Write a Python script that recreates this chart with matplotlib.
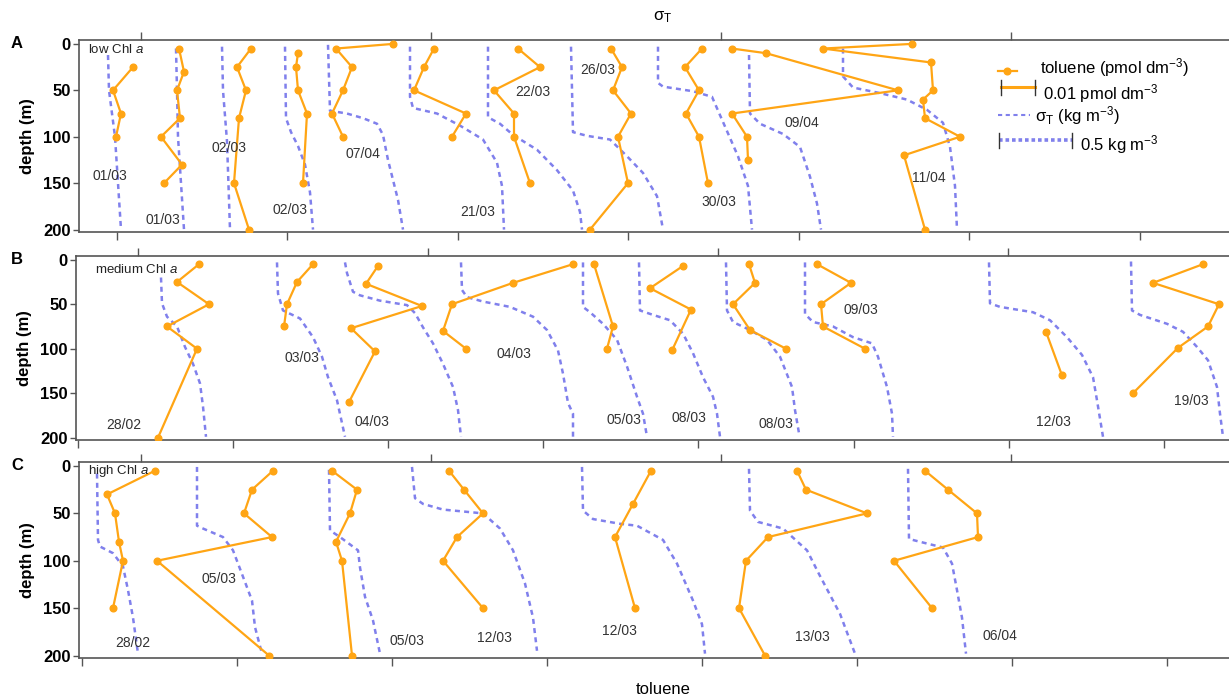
import numpy as np
import matplotlib.pyplot as plt

plt.rcParams['font.family'] = ['Liberation Sans', 'DejaVu Sans']
plt.rcParams['mathtext.fontset'] = 'custom'
plt.rcParams['mathtext.rm'] = 'Liberation Sans'
plt.rcParams['mathtext.it'] = 'Liberation Sans:italic'
plt.rcParams['mathtext.bf'] = 'Liberation Sans:bold'

# x values are offset profile positions in plot units
# (34 units = 0.01 pmol dm-3 toluene, 73 units = 0.5 kg m-3 sigma-T)
TOL_BAR = 34
SIG_BAR = 73

# ---- panel A: low Chl a ----
tol_depth_A = [[25, 50, 75, 100],
               [5, 30, 50, 80, 100, 130, 150],
               [5, 25, 50, 80, 150, 200],
               [10, 25, 50, 75, 150],
               [0, 5, 25, 50, 75, 100],
               [5, 25, 50, 75, 100],
               [5, 25, 50, 75, 100, 150],
               [5, 25, 50, 75, 100, 150, 200],
               [5, 25, 50, 75, 100, 150],
               [5, 10, 50, 75, 100, 125],
               [0, 5, 20, 50, 60, 80, 100, 120, 200]]
tol_A = [[54, 34, 42, 37],
         [100, 105, 98, 101, 82, 103, 85],
         [172, 158, 167, 160, 155, 170],
         [219, 217, 219, 228, 224],
         [314, 257, 273, 264, 253, 264],
         [355, 345, 335, 387, 373],
         [439, 461, 415, 435, 435, 451],
         [532, 543, 534, 552, 539, 549, 511],
         [623, 606, 620, 607, 620, 629],
         [653, 687, 819, 653, 668, 669],
         [833, 744, 852, 854, 844, 846, 881, 825, 846]]
sig_depth_A = [[12, 50, 75, 100, 150, 200],
               [5, 50, 100, 150, 200],
               [3, 50, 105, 200],
               [3, 80, 95, 110, 130, 160, 200],
               [1, 72, 75, 80, 86, 98, 125, 168, 200],
               [3, 57, 69, 75, 88, 103, 128, 153, 200],
               [3, 79, 86, 98, 114, 136, 158, 181, 200],
               [3, 95, 99, 103, 121, 139, 164, 200],
               [3, 42, 46, 51, 57, 89, 121, 153, 200],
               [12, 75, 86, 97, 111, 143, 172, 200],
               [5, 35, 47, 53, 60, 71, 85, 111, 153, 200]]
sig_A = [[29, 30, 33, 36, 39, 42],
         [97, 98, 99, 102, 105],
         [143, 144, 148, 151],
         [206, 207, 212, 219, 226, 231, 234],
         [249, 251, 268, 284, 298, 304, 309, 319, 324],
         [331, 331, 334, 358, 381, 404, 418, 423, 425],
         [409, 409, 421, 434, 458, 478, 494, 501, 503],
         [492, 494, 508, 531, 548, 564, 578, 584],
         [579, 579, 584, 614, 633, 646, 659, 669, 673],
         [670, 671, 681, 704, 721, 731, 738, 742],
         [764, 764, 774, 801, 828, 848, 864, 871, 876, 878]]
dates_A = ['01/03', '01/03', '02/03', '02/03', '07/04', '21/03',
           '22/03', '26/03', '30/03', '09/04', '11/04']
date_pos_A = [(31, 142), (84, 190), (150, 112), (211, 179), (284, 119), (399, 181),
              (454, 52), (519, 28), (640, 170), (723, 85), (850, 144)]

# ---- panel B: medium Chl a ----
tol_depth_B = [[5, 25, 50, 75, 100, 200],
               [5, 25, 50, 75],
               [7, 27, 52, 77, 103, 160],
               [5, 26, 50, 80, 100],
               [5, 75, 100],
               [7, 32, 56, 102],
               [5, 26, 50, 79, 100],
               [5, 26, 50, 75, 100],
               [81, 130],
               [5, 26, 50, 75, 99, 150]]
tol_B = [[120, 98, 130, 88, 118, 79],
         [234, 218, 208, 205],
         [299, 287, 343, 272, 296, 270],
         [494, 434, 373, 364, 387],
         [515, 534, 528],
         [604, 571, 612, 593],
         [670, 676, 654, 671, 707],
         [738, 772, 742, 744, 786],
         [967, 983],
         [1124, 1074, 1140, 1129, 1099, 1054]]
sig_depth_B = [[20, 49, 64, 75, 98, 117, 139, 165, 199],
               [3, 38, 57, 66, 87, 109, 132, 158, 199],
               [3, 15, 36, 40, 46, 51, 60, 76, 94, 117, 143, 169, 199],
               [3, 34, 42, 47, 53, 64, 79, 102, 128, 161, 173, 199],
               [3, 53, 59, 72, 90, 120, 154, 173, 199],
               [3, 57, 62, 68, 83, 105, 132, 154, 173, 199],
               [3, 57, 70, 79, 90, 109, 143, 169, 195],
               [3, 61, 70, 75, 87, 94, 109, 143, 173, 199],
               [3, 49, 53, 59, 68, 87, 107, 132, 158, 199],
               [2, 57, 62, 72, 81, 98, 113, 143, 173, 199]]
sig_B = [[82, 83, 88, 98, 106, 114, 121, 124, 127],
         [198, 199, 204, 221, 234, 243, 249, 258, 266],
         [266, 268, 274, 281, 301, 328, 336, 344, 354, 364, 374, 379, 382],
         [382, 383, 388, 404, 431, 454, 468, 479, 484, 489, 494, 494],
         [504, 504, 511, 524, 538, 548, 558, 564, 568],
         [560, 561, 574, 591, 604, 614, 624, 634, 638, 641],
         [647, 648, 654, 671, 688, 701, 713, 716, 720],
         [726, 726, 734, 754, 774, 793, 799, 808, 813, 814],
         [910, 911, 921, 954, 971, 988, 1003, 1014, 1018, 1024],
         [1052, 1053, 1061, 1088, 1104, 1118, 1129, 1138, 1141, 1144]]
dates_B = ['28/02', '03/03', '04/03', '04/03', '05/03',
           '08/03', '08/03', '09/03', '12/03', '19/03']
date_pos_B = [(45, 186), (223, 110), (293, 182), (435, 106), (545, 180),
              (610, 178), (697, 185), (782, 56), (974, 182), (1112, 159)]

# ---- panel C: high Chl a ----
tol_depth_C = [[5, 30, 50, 80, 100, 150],
               [5, 25, 50, 75, 100, 200],
               [5, 25, 50, 80, 100, 200],
               [5, 25, 50, 75, 100, 150],
               [5, 40, 75, 150],
               [5, 25, 50, 75, 100, 150, 200],
               [5, 25, 50, 75, 100, 150]]
tol_C = [[76, 28, 36, 40, 44, 34],
         [194, 173, 165, 193, 78, 190],
         [253, 278, 271, 257, 263, 273],
         [370, 385, 404, 378, 364, 404],
         [572, 554, 536, 556],
         [718, 727, 788, 689, 667, 660, 686],
         [846, 869, 898, 899, 815, 853]]
sig_depth_C = [[8, 78, 85, 92, 106, 131, 160, 198],
               [1, 63, 66, 75, 89, 128, 142, 170, 198],
               [4, 68, 75, 89, 107, 138, 163, 198],
               [1, 34, 40, 46, 50, 66, 89, 124, 160, 195],
               [1, 47, 56, 61, 63, 78, 103, 142, 167, 198],
               [3, 47, 59, 66, 89, 114, 156, 198],
               [3, 77, 80, 86, 103, 131, 160, 198]]
sig_C = [[18, 19, 21, 34, 44, 49, 54, 59],
         [118, 118, 124, 144, 154, 168, 173, 176, 183],
         [250, 251, 261, 279, 281, 286, 294, 301],
         [333, 336, 344, 364, 404, 421, 434, 446, 454, 458],
         [503, 504, 514, 541, 558, 584, 598, 614, 623, 626],
         [670, 671, 679, 704, 728, 740, 761, 776],
         [829, 830, 841, 864, 873, 878, 883, 887]]
dates_C = ['28/02', '05/03', '05/03', '12/03', '12/03', '13/03', '06/04']
date_pos_C = [(54, 187), (140, 119), (328, 185), (415, 181), (540, 174),
              (733, 180), (921, 179)]

TOL_COLOR = '#FFA514'
SIG_COLOR = '#8080EC'
SPINE = '#555555'
SIG_DASH = (2.0, 1.7)

W, H = 1229, 700
fig = plt.figure(figsize=(W / 100, H / 100), dpi=100)


def rect(left, top, right, bottom):
    return [left / W, 1 - bottom / H, (right - left) / W, (bottom - top) / H]


panels = [
    dict(rect=rect(79, 40, 1229, 232), x0=0, letter='A', ly=44,
         title='low Chl $a$', tpos=(9, 6),
         bot=37.5 + 170.5 * np.arange(7), top=61.7 + 290 * np.arange(4),
         tol_d=tol_depth_A, tol=tol_A, sig_d=sig_depth_A, sig=sig_A,
         dates=dates_A, dpos=date_pos_A),
    dict(rect=rect(76, 256, 1229, 440), x0=-3, letter='B', ly=259,
         title='medium Chl $a$', tpos=(16, 11),
         bot=-1 + 155.1 * np.arange(8), top=58.7 + 290 * np.arange(4),
         tol_d=tol_depth_B, tol=tol_B, sig_d=sig_depth_B, sig=sig_B,
         dates=dates_B, dpos=date_pos_B),
    dict(rect=rect(79, 462, 1229, 658), x0=0, letter='C', ly=466,
         title='high Chl $a$', tpos=(9, 5),
         bot=2.7 + 155 * np.arange(8), top=61.7 + 290 * np.arange(4),
         tol_d=tol_depth_C, tol=tol_C, sig_d=sig_depth_C, sig=sig_C,
         dates=dates_C, dpos=date_pos_C),
]

axes = []
for p in panels:
    ax = fig.add_axes(p['rect'])
    axes.append(ax)
    for d, x in zip(p['sig_d'], p['sig']):
        ax.plot(x, d, color=SIG_COLOR, lw=1.8, dashes=SIG_DASH, zorder=2)
    for d, x in zip(p['tol_d'], p['tol']):
        ax.plot(x, d, color=TOL_COLOR, lw=1.6, marker='o', ms=4.8, zorder=3)
    for lab, (x, d) in zip(p['dates'], p['dpos']):
        ax.text(x, d, lab, ha='center', va='center', fontsize=10, color='#333333')
    ax.text(p['tpos'][0], p['tpos'][1], p['title'], ha='left', va='center',
            fontsize=9.5, color='#222222')

    ax.set_xlim(p['x0'], 1150)
    ax.set_ylim(202.6, -4.2)
    ax.set_yticks([0, 50, 100, 150, 200], ['0', '50', '100', '150', '200'],
                  fontweight='bold', fontsize=12)
    ax.set_xticks(p['bot'], [])
    ax.tick_params(axis='y', length=4, width=1, color=SPINE, pad=2)
    ax.tick_params(axis='x', length=6, width=1, color=SPINE)
    ax.set_ylabel('depth (m)', fontsize=12, fontweight='bold', labelpad=6)

    sec = ax.secondary_xaxis('top')
    sec.set_xticks(p['top'], [])
    sec.tick_params(length=6, width=1, color=SPINE)
    sec.spines['top'].set_color(SPINE)
    sec.spines['top'].set_linewidth(1.2)
    ax.spines['top'].set_visible(False)
    ax.spines['right'].set_visible(False)
    for s in ['left', 'bottom']:
        ax.spines[s].set_color(SPINE)
        ax.spines[s].set_linewidth(1.2)

    fig.text(17 / W, 1 - p['ly'] / H, p['letter'], fontsize=12,
             fontweight='bold', ha='center', va='center')

# legend with scale bars, inside panel A
ax = axes[0]
tr = ax.get_xaxis_transform()
ax.plot([919, 938], [0.84, 0.84], color=TOL_COLOR, lw=1.6, transform=tr, clip_on=False)
ax.plot([928], [0.84], 'o', color=TOL_COLOR, ms=4.8, transform=tr, clip_on=False)
ax.text(961, 0.855, 'toluene (pmol dm$^{-3}$)', fontsize=12, va='center', transform=tr)

bx = 922
ax.plot([bx, bx + TOL_BAR], [0.754, 0.754], color=TOL_COLOR, lw=2.2, transform=tr)
for xx in (bx, bx + TOL_BAR):
    ax.plot([xx, xx], [0.715, 0.79], color='#333333', lw=1, transform=tr)
ax.text(964, 0.722, '0.01 pmol dm$^{-3}$', fontsize=12, va='center', transform=tr)

ax.plot([919, 951], [0.61, 0.61], color=SIG_COLOR, lw=1.5, dashes=SIG_DASH, transform=tr)
ax.text(956, 0.605, 'σ$_\\mathrm{T}$ (kg m$^{-3}$)', fontsize=12, va='center', transform=tr)

sx = 920
ax.plot([sx, sx + SIG_BAR], [0.479, 0.479], color=SIG_COLOR, lw=2.6,
        dashes=(1.0, 0.8), transform=tr)
for xx in (sx, sx + SIG_BAR):
    ax.plot([xx, xx], [0.44, 0.515], color='#333333', lw=1, transform=tr)
ax.text(1001, 0.455, '0.5 kg m$^{-3}$', fontsize=12, va='center', transform=tr)

fig.text(663 / W, 1 - 17 / H, 'σ$_\\mathrm{T}$', fontsize=12, ha='center', va='center')
fig.text(663 / W, 1 - 690 / H, 'toluene', fontsize=12, ha='center', va='center')

plt.savefig('out.png', dpi=100)
